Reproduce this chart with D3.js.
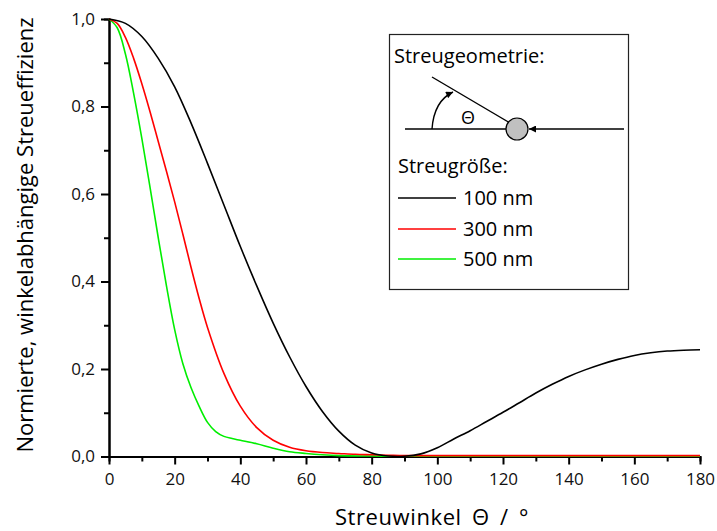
<!DOCTYPE html>
<html>
<head>
<meta charset="utf-8">
<script src="https://cdn.jsdelivr.net/npm/d3@7"></script>
<style>
  body { margin: 0; background: #fff; }
  svg text { font-family: "Open Sans", "Noto Sans", sans-serif; fill: #000; }
</style>
</head>
<body>
<svg id="chart" width="717" height="531"></svg>
<script>
const theta100 = [0,5,10,15,20,25,30,35,40,45,50,55,60,65,70,75,80,85,90,95,100,105,110,115,120,125,130,135,140,145,150,155,160,165,170,175,180]
const eff100 = [1.0,0.99,0.96,0.91,0.845,0.762,0.67,0.575,0.48,0.39,0.305,0.228,0.16,0.103,0.058,0.026,0.008,0.001,0.0005,0.006,0.02,0.04,0.059,0.08,0.101,0.123,0.145,0.165,0.183,0.198,0.211,0.222,0.231,0.237,0.241,0.243,0.244]

const theta300 = [0,2.5,5,7.5,10,12.5,15,17.5,20,22.5,25,27.5,30,35,40,45,50,55,60,65,70,75,80,85,90,100,120,140,160,180]
const eff300 = [1.0,0.99,0.958,0.91,0.852,0.788,0.72,0.652,0.582,0.508,0.432,0.36,0.295,0.19,0.115,0.066,0.037,0.021,0.013,0.009,0.007,0.005,0.004,0.003,0.002,0.002,0.002,0.002,0.002,0.002]

const theta500 = [0,2.5,5,7.5,10,12.5,15,17.5,20,22.5,25,27.5,30,32.5,35,37.5,40,45,50,55,60,65,70,80,90,120,150,180]
const eff500 = [1.0,0.98,0.92,0.83,0.727,0.615,0.50,0.39,0.29,0.212,0.157,0.114,0.078,0.057,0.046,0.041,0.037,0.029,0.019,0.011,0.007,0.004,0.002,0.001,0.0005,0.0005,0.0005,0.0005]

const seriesNames = ['100 nm', '300 nm', '500 nm']
const seriesColors = ['#000000', '#ff0000', '#00ee00']
const xTicks = [0,20,40,60,80,100,120,140,160,180]
const yTicks = [0,0.2,0.4,0.6,0.8,1.0]

const svg = d3.select('#chart')
const padLeft = 109, padRight = 700, padTop = 19, padBottom = 456.5

const xScale = d3.scaleLinear().domain([0,180]).range([padLeft,padRight])
const yScale = d3.scaleLinear().domain([0,1]).range([padBottom,padTop])

const fmt = d => d3.format('.1f')(d).replace('.', ',')

// minor ticks first, majors on top
svg.append('g')
	.attr('transform', `translate(${padLeft},0)`)
	.call(d3.axisLeft(yScale).tickValues([0.1,0.3,0.5,0.7,0.9]).tickSize(5).tickFormat(''))
svg.append('g')
	.attr('transform', `translate(0,${padBottom})`)
	.call(d3.axisBottom(xScale).tickValues(d3.range(10,180,20)).tickSize(5).tickFormat(''))

const yAxis = svg.append('g')
	.attr('transform', `translate(${padLeft},0)`)
	.call(d3.axisLeft(yScale).tickValues(yTicks).tickSize(8).tickSizeOuter(0).tickPadding(6).tickFormat(fmt))
const xAxis = svg.append('g')
	.attr('transform', `translate(0,${padBottom})`)
	.call(d3.axisBottom(xScale).tickValues(xTicks).tickSize(8).tickSizeOuter(0).tickPadding(8))

svg.selectAll('.tick line').style('stroke', '#000').style('stroke-width', 2)
svg.selectAll('path.domain').style('stroke', '#000').style('stroke-width', 2)
svg.selectAll('.tick text').style('font-size', '17px').style('fill', '#111')

const line = d3.line()
	.x(d => xScale(d[0]))
	.y(d => yScale(d[1]))
	.curve(d3.curveCatmullRom.alpha(0.5))

const series = [
	d3.zip(theta100, eff100),
	d3.zip(theta300, eff300),
	d3.zip(theta500, eff500)
]

// green under red under black
;[2,1,0].forEach(i => {
	svg.append('path')
		.datum(series[i])
		.attr('fill', 'none')
		.attr('stroke', seriesColors[i])
		.attr('stroke-width', 1.6)
		.attr('d', line)
})

// axis titles
svg.append('text')
	.attr('x', 432).attr('y', 525)
	.attr('text-anchor', 'middle')
	.style('font-size', '22px')
	.style('letter-spacing', '0.6px')
	.style('word-spacing', '4px')
	.text('Streuwinkel \u0398 / \u00b0')

svg.append('text')
	.attr('transform', 'translate(33,235) rotate(-90)')
	.attr('text-anchor', 'middle')
	.style('font-size', '22px')
	.text('Normierte, winkelabhängige Streueffizienz')

// legend box
const lg = svg.append('g')
lg.append('rect')
	.attr('x', 389.5).attr('y', 34.5)
	.attr('width', 239).attr('height', 255)
	.attr('fill', '#fff')
	.attr('stroke', '#222')
	.attr('stroke-width', 1.2)

lg.append('text').attr('x', 394).attr('y', 63).style('font-size', '20px').text('Streugeometrie:')

const defs = svg.append('defs')
defs.append('marker')
	.attr('id', 'arr')
	.attr('viewBox', '0 0 10 10')
	.attr('refX', 10).attr('refY', 5)
	.attr('markerWidth', 9).attr('markerHeight', 7)
	.attr('markerUnits', 'userSpaceOnUse')
	.attr('orient', 'auto')
	.append('path').attr('d', 'M0,0 L10,5 L0,10 Z').attr('fill', '#000')

// scattering sketch
lg.append('line').attr('x1', 405).attr('y1', 129).attr('x2', 506).attr('y2', 129).attr('stroke', '#000').attr('stroke-width', 1.4)
lg.append('line').attr('x1', 624).attr('y1', 129).attr('x2', 529).attr('y2', 129)
	.attr('stroke', '#000').attr('stroke-width', 1.4).attr('marker-end', 'url(#arr)')
lg.append('line').attr('x1', 432).attr('y1', 77).attr('x2', 510).attr('y2', 123).attr('stroke', '#000').attr('stroke-width', 1.4)
lg.append('path').attr('d', 'M432,129 Q434,101 453,92')
	.attr('fill', 'none').attr('stroke', '#000').attr('stroke-width', 1.4).attr('marker-end', 'url(#arr)')
lg.append('circle').attr('cx', 517).attr('cy', 129).attr('r', 11)
	.attr('fill', '#c0c0c0').attr('stroke', '#000').attr('stroke-width', 1.2)
lg.append('text').attr('x', 468).attr('y', 124).attr('text-anchor', 'middle').style('font-size', '18px').text('\u0398')

lg.append('text').attr('x', 398).attr('y', 173).style('font-size', '20px').text('Streugröße:')

const legendY = [198, 229, 259]
seriesNames.forEach((name, i) => {
	lg.append('line')
		.attr('x1', 398).attr('x2', 456)
		.attr('y1', legendY[i]).attr('y2', legendY[i])
		.attr('stroke', seriesColors[i]).attr('stroke-width', 1.6)
	lg.append('text')
		.attr('x', 463).attr('y', legendY[i] + 7)
		.style('font-size', '20px')
		.text(name)
})
</script>
</body>
</html>
